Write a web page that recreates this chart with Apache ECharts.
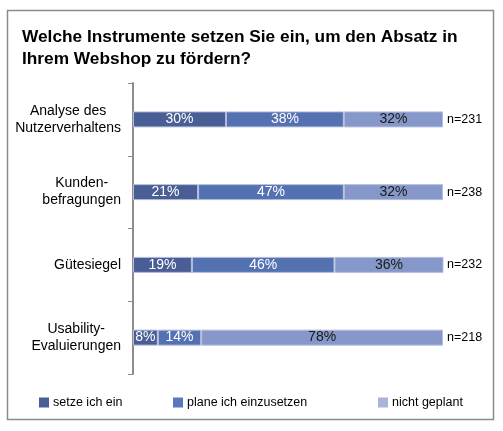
<!DOCTYPE html>
<html>
<head>
<meta charset="utf-8">
<script src="https://cdn.jsdelivr.net/npm/echarts@6/dist/echarts.min.js"></script>
<style>
html, body { margin: 0; padding: 0; background: #fff; }
#main { width: 503px; height: 431px; }
</style>
</head>
<body>
<div id="main"></div>
<script>
const categories = ['Analyse des\nNutzerverhaltens', 'Kunden-\nbefragungen', 'Gütesiegel', 'Usability-\nEvaluierungen'];
const nLabels = ['n=231', 'n=238', 'n=232', 'n=218'];
const setzeIchEin = [30, 21, 19, 8];
const planeIchEinzusetzen = [38, 47, 46, 14];
const nichtGeplant = [32, 32, 36, 78];

const font = 'Liberation Sans, Arial, sans-serif';
let myChart = echarts.init(document.getElementById('main'));

function barSeries(name, data, color, labelColor) {
	return {
		name: name,
		type: 'bar',
		stack: 'total',
		data: data,
		barWidth: 16,
		itemStyle: {
			color: color,
			borderColor: '#b4bddd',
			borderWidth: 1
		},
		label: {
			show: true,
			position: 'inside',
			formatter: '{c}%',
			color: labelColor,
			fontFamily: font,
			fontSize: 14
		}
	};
}

let legendBase = {
	top: 391,
	icon: 'rect',
	itemWidth: 10,
	itemHeight: 10,
	itemGap: 4,
	itemStyle: { borderWidth: 0 },
	textStyle: { fontFamily: font, fontSize: 12.5, color: '#000', padding: [0, 0, 0, -1] }
};

let option = {
	animation: false,
	backgroundColor: '#fff',
	title: {
		text: 'Welche Instrumente setzen Sie ein, um den Absatz in\nIhrem Webshop zu fördern?',
		left: 17,
		top: 21,
		textStyle: {
			fontFamily: font,
			fontSize: 17.3,
			fontWeight: 'bold',
			color: '#000',
			lineHeight: 22
		}
	},
	graphic: [{
		type: 'rect',
		shape: { x: 7.5, y: 10.5, width: 486, height: 409 },
		style: { fill: 'none', stroke: '#8c8c8c', lineWidth: 1.5 },
		silent: true
	}],
	legend: [
		Object.assign({ left: 34, data: ['setze ich ein'] }, legendBase),
		Object.assign({ left: 168, data: [{ name: 'plane ich einzusetzen', itemStyle: { color: '#5a78bd' } }] }, legendBase),
		Object.assign({ left: 373, data: [{ name: 'nicht geplant', itemStyle: { color: '#a8b4d8' } }] }, legendBase)
	],
	grid: {
		left: 133,
		right: 60,
		top: 83,
		bottom: 57
	},
	xAxis: {
		type: 'value',
		min: 0,
		max: 100,
		show: false
	},
	yAxis: [{
		type: 'category',
		data: categories,
		inverse: true,
		axisLine: { show: true, lineStyle: { color: '#8c8c8c', width: 2 } },
		axisTick: { show: true, length: 5, lineStyle: { color: '#8c8c8c', width: 1 } },
		axisLabel: {
			margin: 12,
			align: 'right',
			formatter: function (v) {
				return v.split('\n').map(s => '{c|' + s + '}').join('\n');
			},
			rich: {
				c: {
					align: 'center',
					fontFamily: font,
					fontSize: 14,
					lineHeight: 17,
					color: '#000'
				}
			}
		}
	}, {
		type: 'category',
		data: nLabels,
		inverse: true,
		position: 'right',
		axisLine: { show: false },
		axisTick: { show: false },
		axisLabel: {
			margin: 4,
			fontFamily: font,
			fontSize: 12.5,
			color: '#000'
		}
	}],
	series: [
		barSeries('setze ich ein', setzeIchEin, '#4a5e96', '#fff'),
		barSeries('plane ich einzusetzen', planeIchEinzusetzen, '#5471b1', '#fff'),
		barSeries('nicht geplant', nichtGeplant, '#8598c9', '#1a1a1a')
	]
};

myChart.setOption(option);
</script>
</body>
</html>
